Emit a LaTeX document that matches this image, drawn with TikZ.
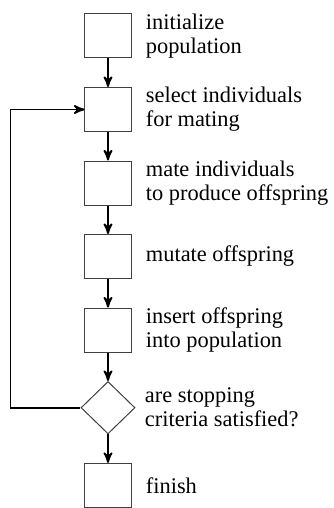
\documentclass[tikz,border=0pt]{standalone}
\usepackage{fontspec}
\setmainfont{Liberation Serif}
\usepackage{tikz}
\usetikzlibrary{arrows,positioning,shapes.geometric}

\begin{document}
\begin{tikzpicture}[->,>=stealth',node distance=14.25pt,
    flow/.style={draw=black,line width=0.9pt},
    step box/.style={rectangle,draw=black!75,line width=0.5pt,minimum width=23pt,minimum height=22pt,inner sep=0pt},
    test box/.style={diamond,draw=black!75,line width=0.5pt,minimum width=27pt,minimum height=26.2pt,inner sep=0pt},
    caption/.style={align=left,inner sep=0pt,font=\fontsize{11.2}{12}\selectfont}]

  \useasboundingbox (-54pt,18pt) rectangle (112.5pt,-236pt);

  \node[step box] (init) at (0,0) {};
  \node[step box] (select) [below=of init] {};
  \node[step box] (mate) [below=of select] {};
  \node[step box] (mutate) [below=of mate] {};
  \node[step box] (insert) [below=of mutate] {};
  \node[test box] (test) [below=of insert] {};
  \node[step box] (finish) [below=of test] {};

  % texts to the right of the column
  \node[caption] (init text) [right=7pt of init] {initialize\\population};
  \node[caption] (select text) [right=7pt of select] {select individuals\\for mating};
  \node[caption] (mate text) [right=7pt of mate] {mate individuals\\to produce offspring};
  \node[caption] (mutate text) [right=7pt of mutate] {mutate offspring};
  \node[caption] (insert text) [right=7pt of insert] {insert offspring\\into population};
  \node[caption] (test text) [right=4.5pt of test] {are stopping\\criteria satisfied?};
  \node[caption] (finish text) [right=7pt of finish] {finish};

  \draw[flow] (init) -- (select);
  \draw[flow] (select) -- (mate);
  \draw[flow] (mate) -- (mutate);
  \draw[flow] (mutate) -- (insert);
  \draw[flow] (insert) -- (test);
  \draw[flow] (test) -- (finish);
  \draw[flow] (test.west) -- ++(-35pt,0) |- (select.west);

\end{tikzpicture}
\end{document}
